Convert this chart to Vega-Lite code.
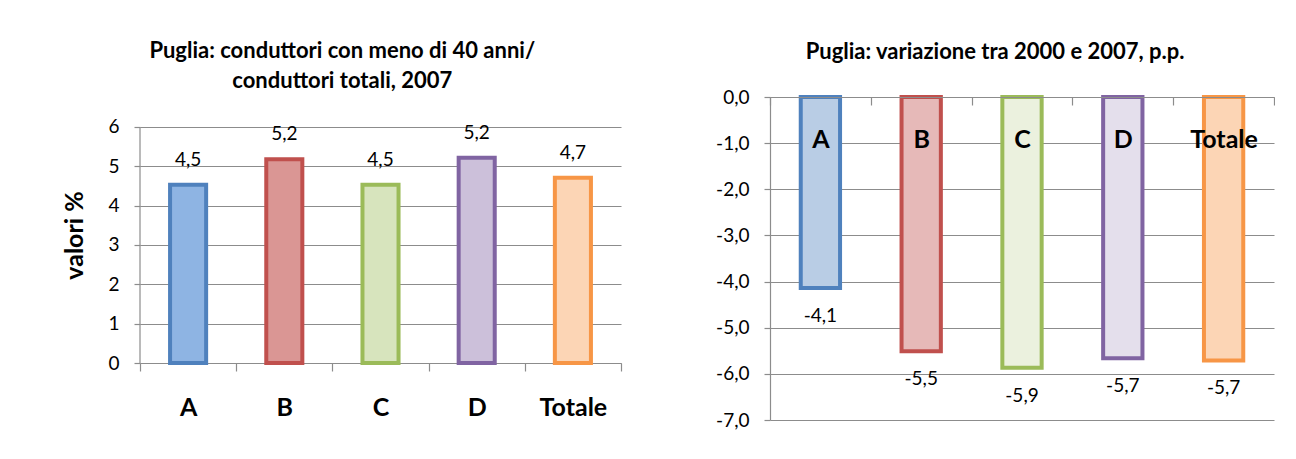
{
  "$schema": "https://vega.github.io/schema/vega-lite/v6.json",
  "background": "white",
  "padding": {"left": 62, "top": 40, "right": 0, "bottom": 0},
  "spacing": 93,
  "align": "none",
  "resolve": {"scale": {"fill": "independent", "stroke": "independent"}},
  "config": {
    "locale": {"number": {"decimal": ",", "thousands": ".", "grouping": [3], "currency": ["€", ""], "minus": "-"}},
    "font": "Lato",
    "view": {"stroke": null},
    "axis": {
      "gridColor": "#8c8c8c", "gridOpacity": 1, "gridWidth": 1.2,
      "domainColor": "#8c8c8c", "domainWidth": 1.2,
      "tickColor": "#8c8c8c", "tickWidth": 1.2,
      "labelColor": "#000000", "titleColor": "#000000",
      "labelFont": "Lato", "titleFont": "Lato"
    },
    "title": {"font": "Lato", "fontSize": 22, "fontWeight": "bold", "color": "#000000", "anchor": "middle", "frame": "bounds"}
  },
  "datasets": {
    "livello": [
      {"cat": "A", "val": 4.53},
      {"cat": "B", "val": 5.18},
      {"cat": "C", "val": 4.53},
      {"cat": "D", "val": 5.22},
      {"cat": "Totale", "val": 4.71}
    ],
    "variazione": [
      {"cat": "A", "val": -4.14},
      {"cat": "B", "val": -5.51},
      {"cat": "C", "val": -5.87},
      {"cat": "D", "val": -5.66},
      {"cat": "Totale", "val": -5.71}
    ]
  },
  "hconcat": [
    {
      "width": 481,
      "height": 266,
      "title": {"text": ["Puglia:  conduttori con meno di 40 anni/", "conduttori totali,  2007"], "lineHeight": 30, "offset": 4},
      "data": {"name": "livello"},
      "encoding": {
        "x": {
          "field": "cat", "type": "nominal", "sort": null,
          "scale": {"paddingInner": 0, "paddingOuter": 0},
          "axis": {"title": null, "labelAngle": 0, "labelFontSize": 25, "labelFontWeight": "bold", "tickBand": "extent", "tickSize": 8, "labelPadding": 24}
        },
        "y": {"field": "val", "type": "quantitative", "scale": {"domain": [0, 6.7627], "nice": false},
          "axis": {"values": [0, 1, 2, 3, 4, 5, 6], "title": "valori %", "titleFontSize": 25, "titleFontWeight": "bold", "titlePadding": 20, "titleY": 138, "labelFontSize": 19, "tickSize": 6, "labelPadding": 15, "grid": true, "domain": false, "labelOverlap": false}}
      },
      "layer": [
        {
          "transform": [{"filter": "datum.cat === 'A'"}],
          "mark": {"type": "rule", "color": "#8c8c8c", "strokeWidth": 1.2},
          "encoding": {
            "x": {"field": "cat", "type": "nominal", "sort": null, "bandPosition": 0},
            "y": {"datum": 0},
            "y2": {"datum": 6}
          }
        },
        {
          "mark": {"type": "bar", "strokeWidth": 4, "width": {"band": 0.375}},
          "encoding": {
            "fill": {"field": "cat", "type": "nominal", "legend": null,
              "scale": {"domain": ["A", "B", "C", "D", "Totale"], "range": ["#8EB4E3", "#DA9694", "#D7E4BD", "#CCC0DA", "#FCD5B5"]}},
            "stroke": {"field": "cat", "type": "nominal", "legend": null,
              "scale": {"domain": ["A", "B", "C", "D", "Totale"], "range": ["#4F81BD", "#C0504D", "#9BBB59", "#8064A2", "#F79646"]}}
          }
        },
        {
          "mark": {"type": "text", "dy": -25, "fontSize": 19, "font": "Lato", "color": "#000000"},
          "encoding": {
            "text": {"field": "val", "type": "quantitative", "format": ".1f"}
          }
        }
      ]
    },
    {
      "width": 504,
      "height": 323,
      "title": {"text": "Puglia: variazione tra 2000 e 2007, p.p.", "offset": 24},
      "data": {"name": "variazione"},
      "encoding": {
        "x": {
          "field": "cat", "type": "nominal", "sort": null,
          "scale": {"paddingInner": 0, "paddingOuter": 0},
          "axis": {"orient": "top", "title": null, "labelAngle": 0, "labelFontSize": 25, "labelFontWeight": "bold", "tickBand": "extent", "tickSize": -8, "labelBaseline": "middle", "labelPadding": -34, "zindex": 1}
        },
        "y": {"field": "val", "type": "quantitative", "scale": {"domain": [-7, 0]},
          "axis": {"values": [-7, -6, -5, -4, -3, -2, -1, 0], "format": ".1f", "title": null, "labelFontSize": 19, "tickSize": 6, "labelPadding": 15, "grid": true, "labelOverlap": false}}
      },
      "layer": [
        {
          "mark": {"type": "bar", "strokeWidth": 4, "width": {"band": 0.39}},
          "encoding": {
            "fill": {"field": "cat", "type": "nominal", "legend": null,
              "scale": {"domain": ["A", "B", "C", "D", "Totale"], "range": ["#B9CDE5", "#E6B9B8", "#EBF1DE", "#E4DFEC", "#FCD5B5"]}},
            "stroke": {"field": "cat", "type": "nominal", "legend": null,
              "scale": {"domain": ["A", "B", "C", "D", "Totale"], "range": ["#4F81BD", "#C0504D", "#9BBB59", "#8064A2", "#F79646"]}}
          }
        },
        {
          "mark": {"type": "text", "dy": 28, "fontSize": 19, "font": "Lato", "color": "#000000"},
          "encoding": {
            "text": {"field": "val", "type": "quantitative", "format": ".1f"}
          }
        }
      ]
    }
  ]
}
